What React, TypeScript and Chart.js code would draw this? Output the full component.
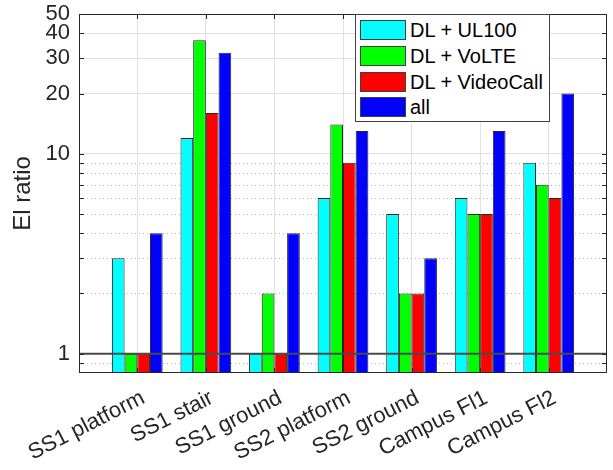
import React, { useEffect, useRef } from 'react';
import { Chart, registerables } from 'chart.js';

Chart.register(...registerables);

// ---- data ----
const categories = ['SS1 platform', 'SS1 stair', 'SS1 ground', 'SS2 platform', 'SS2 ground', 'Campus Fl1', 'Campus Fl2'];
const seriesNames = ['DL + UL100', 'DL + VoLTE', 'DL + VideoCall', 'all'];
const ul100 = [3, 12, 1, 6, 5, 6, 9];
const volte = [1, 37, 2, 14, 2, 5, 7];
const videoCall = [1, 16, 1, 9, 2, 5, 6];
const allSeries = [4, 32, 4, 13, 3, 13, 20];
const yTickValues = [1, 10, 20, 30, 40, 50];
const yMinorValues = [0.9, 2, 3, 4, 5, 6, 7, 8, 9];
const referenceLevel = 1;
const yMin = 0.8;
const yMax = 50;

const seriesColors = ['#00FFFF', '#00FF00', '#FF0000', '#0000FF'];
const axisColor = '#262626';
const FONT = '"Liberation Sans", Arial, Helvetica, sans-serif';

export default function App() {
  const canvasRef = useRef<HTMLCanvasElement | null>(null);

  useEffect(() => {
    const canvas = canvasRef.current;
    if (!canvas) return;
    const seriesValues = [ul100, volte, videoCall, allSeries];

    const matlabAxes = {
      id: 'matlabAxes',
      beforeDatasetsDraw(chart: any) {
        const { ctx, chartArea } = chart;
        const y = chart.scales.y;
        ctx.save();
        ctx.strokeStyle = '#b8b8b8';
        ctx.lineWidth = 1;
        ctx.setLineDash([1, 3]);
        yMinorValues.forEach((v) => {
          const py = Math.round(y.getPixelForValue(v)) + 0.5;
          ctx.beginPath();
          ctx.moveTo(chartArea.left, py);
          ctx.lineTo(chartArea.right, py);
          ctx.stroke();
        });
        ctx.restore();
      },
      afterDatasetsDraw(chart: any) {
        const { ctx, chartArea } = chart;
        const x = chart.scales.x;
        const y = chart.scales.y;
        const { left, right, top, bottom } = chartArea;
        ctx.save();
        const py1 = y.getPixelForValue(referenceLevel);
        ctx.strokeStyle = '#4a4a4a';
        ctx.lineWidth = 2;
        ctx.beginPath();
        ctx.moveTo(left, py1);
        ctx.lineTo(right, py1);
        ctx.stroke();
        ctx.strokeStyle = axisColor;
        ctx.lineWidth = 1;
        ctx.strokeRect(Math.round(left) + 0.5, Math.round(top) + 0.5, Math.round(right - left) - 1, Math.round(bottom - top) - 1);
        const tl = 5;
        [...yTickValues, ...yMinorValues].forEach((v) => {
          const py = Math.round(y.getPixelForValue(v)) + 0.5;
          ctx.beginPath();
          ctx.moveTo(left, py);
          ctx.lineTo(left + tl, py);
          ctx.moveTo(right, py);
          ctx.lineTo(right - tl, py);
          ctx.stroke();
        });
        categories.forEach((_, i) => {
          const px = Math.round(x.getPixelForValue(i + 1)) + 0.5;
          ctx.beginPath();
          ctx.moveTo(px, top);
          ctx.lineTo(px, top + tl);
          ctx.moveTo(px, bottom);
          ctx.lineTo(px, bottom - tl);
          ctx.stroke();
        });
        ctx.restore();
      },
    };

    const chart = new Chart(canvas, {
      type: 'bar',
      data: {
        datasets: seriesNames.map((name, k) => ({
          label: name,
          data: categories.map((_, i) => ({ x: i + 1, y: seriesValues[k][i] })),
          backgroundColor: seriesColors[k],
          borderColor: axisColor,
          borderWidth: 1,
          borderSkipped: false,
          barPercentage: 1,
          categoryPercentage: 0.74,
        })),
      },
      options: {
        responsive: false,
        animation: false,
        devicePixelRatio: 1,
        layout: { padding: { left: 0, top: 14, right: 6, bottom: 0 } },
        plugins: { legend: { display: false }, tooltip: { enabled: false } },
        scales: {
          x: {
            type: 'linear',
            min: 0.15,
            max: 7.85,
            offset: false,
            afterBuildTicks: (s: any) => {
              s.ticks = categories.map((_, i) => ({ value: i + 1 }));
            },
            afterFit: (s: any) => {
              s.height = 97;
              s.paddingLeft = 0;
              s.paddingRight = 0;
            },
            ticks: {
              autoSkip: false,
              maxRotation: 27,
              minRotation: 27,
              padding: 12,
              labelOffset: 6,
              color: axisColor,
              font: { family: FONT, size: 22 },
              callback: (v: any) => categories[Math.round(Number(v)) - 1] ?? '',
            },
            grid: { offset: false, color: '#e2e2e2', drawTicks: false },
            border: { display: false },
          },
          y: {
            type: 'logarithmic',
            min: yMin,
            max: yMax,
            afterBuildTicks: (s: any) => {
              s.ticks = yTickValues.map((v) => ({ value: v }));
            },
            afterFit: (s: any) => {
              s.width = 79;
              s.paddingTop = 0;
              s.paddingBottom = 0;
            },
            ticks: {
              autoSkip: false,
              padding: 9,
              color: axisColor,
              font: { family: FONT, size: 22 },
              callback: (v: any) => String(v),
            },
            grid: {
              drawTicks: false,
              color: (c: any) => (c.tick && c.tick.value === referenceLevel ? 'rgba(0,0,0,0)' : '#e2e2e2'),
            },
            border: { display: false },
            title: {
              display: true,
              text: 'El ratio',
              color: axisColor,
              font: { family: FONT, size: 24 },
              padding: { top: 9, bottom: 0 },
            },
          },
        },
      },
      plugins: [matlabAxes],
    } as any);

    return () => chart.destroy();
  }, []);

  return (
    <div style={{ position: 'fixed', left: 0, top: 0, width: 613, height: 470, background: '#fff' }}>
      <canvas ref={canvasRef} width={613} height={470} style={{ display: 'block', width: 613, height: 470 }} />
      <div
        style={{
          position: 'absolute',
          left: 355,
          top: 14,
          width: 195,
          height: 108,
          boxSizing: 'border-box',
          border: '1px solid #404040',
          background: '#fff',
          fontFamily: FONT,
          fontSize: 20,
          color: '#000',
        }}
      >
        {seriesNames.map((name, k) => (
          <div
            key={name}
            style={{ position: 'absolute', left: 4, top: 5 + 25.8 * k, height: 20, display: 'flex', alignItems: 'center', whiteSpace: 'nowrap' }}
          >
            <span
              style={{
                display: 'inline-block',
                width: 46,
                height: 20,
                boxSizing: 'border-box',
                border: '1px solid #404040',
                background: seriesColors[k],
              }}
            />
            <span style={{ marginLeft: 4, lineHeight: '20px' }}>{name}</span>
          </div>
        ))}
      </div>
    </div>
  );
}
